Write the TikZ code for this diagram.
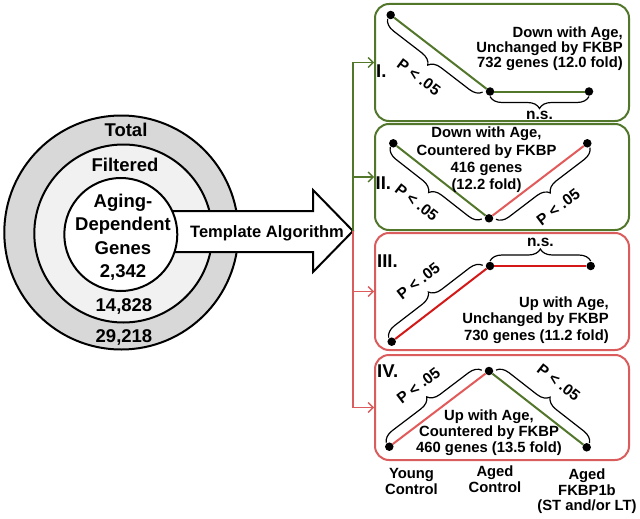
\documentclass[tikz,border=0pt]{standalone}
\usepackage{fontspec}
\setmainfont{Liberation Sans}
\usetikzlibrary{calc,arrows.meta,decorations.pathreplacing}
\definecolor{gline}{RGB}{82,118,42}
\definecolor{rbox}{RGB}{218,92,92}
\definecolor{rlight}{RGB}{226,90,90}
\definecolor{rline}{RGB}{212,24,24}
\definecolor{ringa}{RGB}{216,216,216}
\definecolor{ringb}{RGB}{241,241,241}
\begin{document}
\begin{tikzpicture}[x=1pt,y=-1pt,
  ring/.style={circle,draw=black,line width=2pt,inner sep=0pt},
  bigtxt/.style={font=\fontsize{18.5}{23.3}\selectfont\bfseries,inner sep=0pt,align=center,anchor=north},
  panel/.style={draw,rounded corners=14pt,line width=2pt,minimum width=254pt,inner sep=0pt},
  gdot/.style={circle,fill=black,inner sep=0pt,minimum size=8.5pt},
  trend/.style={line width=2pt},
  brc/.style={draw=black,line width=1.2pt,decorate,decoration={brace,amplitude=12pt}},
  brcm/.style={draw=black,line width=1.2pt,decorate,decoration={brace,mirror,amplitude=12pt}},
  ptxt/.style={font=\fontsize{15.5}{16}\selectfont\bfseries,inner sep=0pt},
  desc/.style={inner sep=0pt},
  numeral/.style={font=\fontsize{18.5}{19}\selectfont\bfseries,inner sep=0pt,anchor=north west},
  feed/.style={line width=1.3pt,-{Straight Barb[length=5pt,width=10pt]}}
]
\useasboundingbox (0,0) rectangle (640,519);

% ---- nested circles and the big arrow ----
\node[ring,fill=ringa,minimum size=234pt] (total) at (121.3,232.5) {};
\node[ring,fill=ringb,minimum size=178pt] (filtered) at (123.3,233.5) {};
\path[draw=black,fill=white,line width=2pt,line join=miter]
  (150,211) -- (313,211) -- (313,190) -- (353,231) -- (313,272) -- (313,252) -- (150,252) -- cycle;
\node[ring,fill=white,minimum size=113pt] (aging) at (120.8,234.5) {};
\coordinate (hub) at (353,231);

\node[bigtxt] (tTotal) at (126,123) {Total};
\node[bigtxt] (tFilt) at (125,158) {Filtered};
\node[bigtxt] (tAging) at (123,194) {Aging-\\Dependent\\Genes\\2,342};
\node[bigtxt] (tnB) at (124,298) {14,828};
\node[bigtxt] (tnA) at (124,329) {29,218};
\node[font=\fontsize{16.5}{17}\selectfont\bfseries,inner sep=0pt,anchor=north] (talgo) at (267,225) {Template Algorithm};

% ---- panels ----
\node[panel,draw=gline,minimum height=117pt] (p1) at (502,62.5) {};
\node[panel,draw=gline,minimum height=106pt] (p2) at (502,177) {};
\node[panel,draw=rbox,minimum height=117pt] (p3) at (502,291.5) {};
\node[panel,draw=rbox,minimum height=105pt] (p4) at (502,407.5) {};

\draw[feed,gline] (hub) |- (p1.west);
\draw[feed,gline] (hub) |- (p2.west);
\draw[feed,rbox] (hub) |- (p3.west);
\draw[feed,rbox] (hub) |- (p4.west);

% ---- panel I ----
\node[gdot] (a1) at (390.7,15) {};
\node[gdot] (b1) at (490,91.5) {};
\node[gdot] (c1) at (589,91.5) {};
\draw[trend,gline] (a1) -- (b1);
\draw[trend,gline] (b1) -- (c1);
\draw[brcm] ($(a1)!0.0!(b1)!5pt!-90:(b1)$) -- ($(b1)!0.04!(a1)!5pt!90:(a1)$);
\node[ptxt,rotate=-37] (pa1) at ($(a1)!0.48!(b1)!32pt!-90:(b1)$) {P < .05};
\draw[brcm] ($(b1)!5pt!-90:(c1)$) -- ($(c1)!5pt!90:(b1)$);
\node[ptxt] (ns1) at ($(b1)!0.5!(c1)!24pt!-90:(c1)$) {n.s.};
\node[desc,font=\fontsize{14.8}{15}\selectfont\bfseries,align=right,anchor=north east] (d1) at (623,26.5) {Down with Age,\\Unchanged by FKBP\\732 genes (12.0 fold)};
\node[numeral] (n1) at (376,65) {I.};

% ---- panel II ----
\node[gdot] (a2) at (393.3,143.3) {};
\node[gdot] (b2) at (489,218.3) {};
\node[gdot] (c2) at (587.3,143.3) {};
\draw[trend,gline] (a2) -- (b2);
\draw[trend,rlight] (b2) -- (c2);
\draw[brcm] ($(a2)!0.0!(b2)!5pt!-90:(b2)$) -- ($(b2)!0.04!(a2)!5pt!90:(a2)$);
\node[ptxt,rotate=-38] (pa2) at ($(a2)!0.45!(b2)!32pt!-90:(b2)$) {P < .05};
\draw[brcm] ($(b2)!0.04!(c2)!5pt!-90:(c2)$) -- ($(c2)!0.0!(b2)!5pt!90:(b2)$);
\node[ptxt,rotate=37] (pb2) at ($(b2)!0.5!(c2)!33pt!-90:(c2)$) {P < .05};
\node[desc,font=\fontsize{14.8}{17.2}\selectfont\bfseries,align=center,anchor=north] (d2) at (486.5,127) {Down with Age,\\Countered by FKBP\\416 genes\\(12.2 fold)};
\node[numeral] (n2) at (375.5,176.7) {II.};

% ---- panel III ----
\node[gdot] (a3) at (391.7,341.7) {};
\node[gdot] (b3) at (490,266) {};
\node[gdot] (c3) at (590.7,266) {};
\draw[trend,rline] (a3) -- (b3);
\draw[trend,rline] (b3) -- (c3);
\draw[brc] ($(a3)!0.0!(b3)!5pt!90:(b3)$) -- ($(b3)!0.04!(a3)!5pt!-90:(a3)$);
\node[ptxt,rotate=37.6] (pa3) at ($(a3)!0.47!(b3)!32pt!90:(b3)$) {P < .05};
\draw[brc] ($(b3)!5pt!90:(c3)$) -- ($(c3)!5pt!-90:(b3)$);
\node[ptxt] (ns3) at ($(b3)!0.5!(c3)!24pt!90:(c3)$) {n.s.};
\node[desc,font=\fontsize{14.8}{16.3}\selectfont\bfseries,align=right,anchor=north east] (d3) at (609,296.7) {Up with Age,\\Unchanged by FKBP\\730 genes (11.2 fold)};
\node[numeral] (n3) at (377,255) {III.};

% ---- panel IV ----
\node[gdot] (a4) at (389.3,446.7) {};
\node[gdot] (b4) at (489,371) {};
\node[gdot] (c4) at (586.7,447.3) {};
\draw[trend,rlight] (a4) -- (b4);
\draw[trend,gline] (b4) -- (c4);
\draw[brc] ($(a4)!0.0!(b4)!5pt!90:(b4)$) -- ($(b4)!0.04!(a4)!5pt!-90:(a4)$);
\node[ptxt,rotate=37.2] (pa4) at ($(a4)!0.48!(b4)!31pt!90:(b4)$) {P < .05};
\draw[brc] ($(b4)!0.04!(c4)!5pt!90:(c4)$) -- ($(c4)!0.0!(b4)!5pt!-90:(b4)$);
\node[ptxt,rotate=-38] (pb4) at ($(b4)!0.5!(c4)!34pt!90:(c4)$) {P < .05};
\node[desc,font=\fontsize{14.8}{16.2}\selectfont\bfseries,align=center,anchor=north] (d4) at (489,409.3) {Up with Age,\\Countered by FKBP\\460 genes (13.5 fold)};
\node[numeral] (n4) at (377,365) {IV.};

% ---- axis labels ----
\node[desc,font=\fontsize{14.8}{15.5}\selectfont\bfseries,align=center,anchor=north] (young) at (411.5,468.3) {Young\\Control};
\node[desc,font=\fontsize{14.8}{15.5}\selectfont\bfseries,align=center,anchor=north] (agedc) at (495,466) {Aged\\Control};
\node[desc,font=\fontsize{14.8}{15.2}\selectfont\bfseries,align=center,anchor=north] (agedf) at (587,469) {Aged\\FKBP1b\\(ST and/or LT)};
\end{tikzpicture}
\end{document}
